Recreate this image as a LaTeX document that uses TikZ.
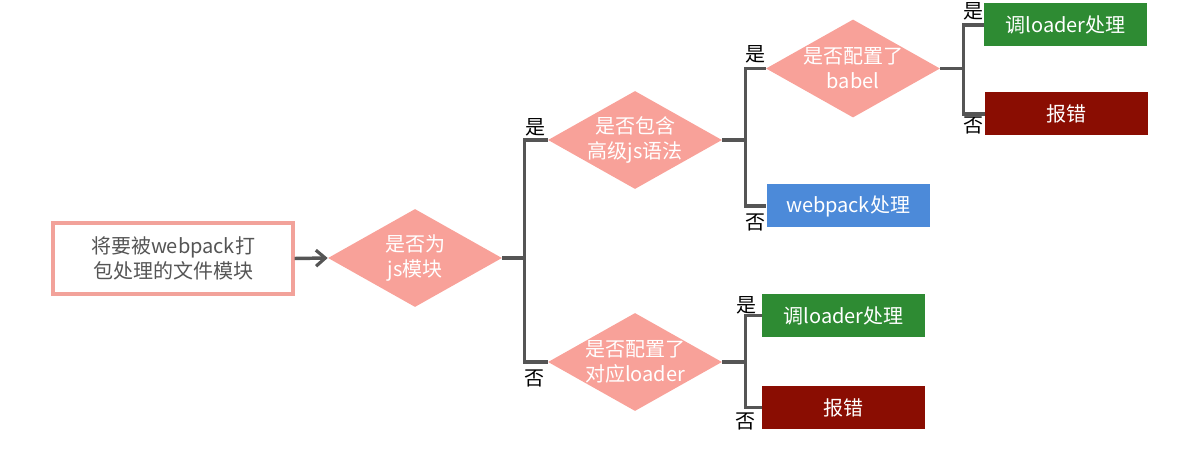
\documentclass[tikz,border=0pt]{standalone}
\usepackage{fontspec}
\setmainfont{Noto Sans CJK SC}
\usetikzlibrary{shapes.geometric,arrows.meta,shadows}
\definecolor{linegray}{HTML}{555555}
\definecolor{salmon}{HTML}{F8A199}
\definecolor{pinkedge}{HTML}{F2A29A}
\definecolor{okgreen}{HTML}{2E8B33}
\definecolor{errred}{HTML}{8A0D02}
\definecolor{wpblue}{HTML}{4C8AD9}
\begin{document}
\begin{tikzpicture}[x=0.75pt,y=-0.75pt,
  every node/.style={font=\fontsize{15pt}{19pt}\selectfont},
  startbox/.style={draw=pinkedge,line width=2.4pt,fill=white,
    minimum width=240*0.75pt,minimum height=71*0.75pt,text=linegray,
    align=center,drop shadow={shadow xshift=1.2pt,shadow yshift=-1.2pt,opacity=0.25}},
  dia/.style={shape=diamond,fill=salmon,inner sep=0pt,
    minimum width=174*0.75pt,minimum height=98*0.75pt},
  diatext/.style={text=white,align=center,font=\fontsize{15pt}{18.75pt}\selectfont},
  leaf/.style={minimum width=163*0.75pt,minimum height=43*0.75pt,
    text=white,inner sep=0pt},
  conn/.style={draw=linegray,line width=2.6pt},
  yes/.style={text=black,inner sep=0pt},
]
\useasboundingbox (0,0) rectangle (1198,459);

% start box and entry arrow
\node[startbox] (src) at (173,258.5) {将要被webpack打\\包处理的文件模块};
\node[dia,label={[diatext]center:是否为\\js模块}] (isjs) at (415,258) {};
\draw[conn,-{Straight Barb[length=7pt,width=12pt,line width=2.4pt]}] (src.east) -- (isjs.west);

% second level decisions
\node[dia,label={[diatext]center:是否包含\\高级js语法}] (adv) at (635,140) {};
\node[dia,label={[diatext]center:是否配置了\\对应loader}] (ldr) at (635,362) {};

% third level
\node[dia,label={[diatext]center:是否配置了\\babel}] (bab) at (853,68.5) {};
\node[leaf,fill=wpblue] (wp) at (848,206) {webpack处理};

% leaves
\node[leaf,fill=okgreen] (ok1) at (1065.5,25) {调loader处理};
\node[leaf,fill=errred] (err1) at (1066.5,114) {报错};
\node[leaf,fill=okgreen] (ok2) at (843.5,315.5) {调loader处理};
\node[leaf,fill=errred] (err2) at (843.5,407.5) {报错};

% tree connectors
\draw[conn] (isjs.east) -- ++(22,0) |- (adv.west);
\draw[conn] (isjs.east) -- ++(22,0) |- (ldr.west);
\draw[conn] (adv.east) -- ++(23,0) |- (bab.west);
\draw[conn] (adv.east) -- ++(23,0) |- (wp.west);
\draw[conn] (bab.east) -- ++(23,0) |- (ok1.west);
\draw[conn] (bab.east) -- ++(23,0) |- (err1.west);
\draw[conn] (ldr.east) -- ++(23,0) |- (ok2.west);
\draw[conn] (ldr.east) -- ++(23,0) |- (err2.west);

% branch labels
\node[yes] (y1) at (535,127) {是};
\node[yes] (n1) at (534,378) {否};
\node[yes] (y2) at (755,54) {是};
\node[yes] (n2) at (755,222) {否};
\node[yes] (y3) at (973,11) {是};
\node[yes] (n3) at (973,125) {否};
\node[yes] (y4) at (746,305) {是};
\node[yes] (n4) at (745,421) {否};
\end{tikzpicture}
\end{document}
